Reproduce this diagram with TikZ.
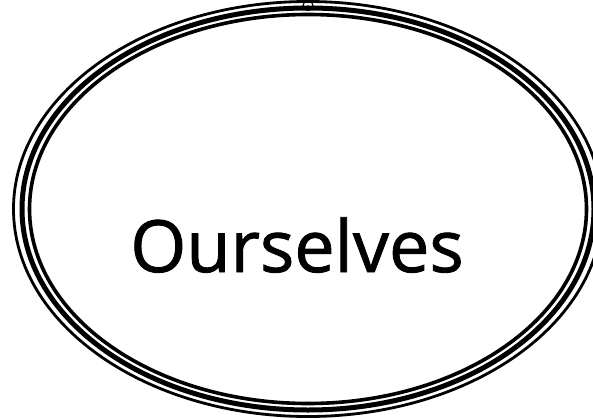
\documentclass[tikz,border=0pt]{standalone}
\usepackage{fontspec}
\setmainfont{Open Sans}
\newfontface\lblfont{Open Sans}[FakeBold=1.2]
\usetikzlibrary{shapes.geometric}
\begin{document}
\begin{tikzpicture}[x=1pt,y=1pt,
  ring/.style={draw=black,ellipse,inner sep=0pt,fill=none}]
\useasboundingbox (0,0) rectangle (593,418);
\fill[white] (0,0) rectangle (593,418);
\coordinate (c) at (308,209);
\node[ring,line width=2.8pt,minimum width=589pt,minimum height=415pt] (outer) at (c) {};
\node[ring,line width=5pt,minimum width=572pt,minimum height=402pt] (middle) at (c) {};
\node[ring,line width=3.6pt,minimum width=557pt,minimum height=389pt] (inner) at (c) {};
\node[circle,draw=black,line width=1.2pt,minimum size=10pt,inner sep=0pt] (mark) at (middle.north) {};
\node[font=\lblfont\fontsize{72}{76}\selectfont] (label) at (297,173) {Ourselves};
\end{tikzpicture}
\end{document}
